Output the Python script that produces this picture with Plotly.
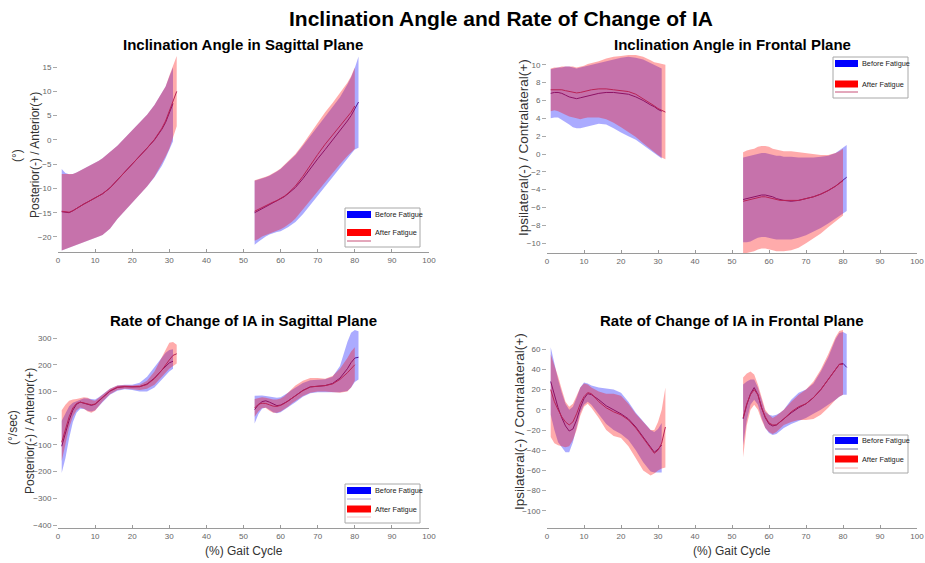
import plotly.graph_objects as go

W, H = 925, 563
FONT = "Liberation Sans, Arial, sans-serif"

# % gait cycle sample positions; None separates the two phases
X_BEFORE = [1, 2, 3, 4, 5, 6, 7, 8, 9, 10, 11, 12, 14, 16, 18, 20, 22, 24, 26, 28, 29, 30, 31, None,
            53, 54, 55, 56, 57, 58, 59, 60, 61, 62, 63, 64, 66, 68, 70, 72, 74, 76, 78, 79, 80, 81]
X_AFTER = [1, 2, 3, 4, 5, 6, 7, 8, 9, 10, 11, 12, 14, 16, 18, 20, 22, 24, 26, 28, 29, 30, 31, 32, None,
           53, 54, 55, 56, 57, 58, 59, 60, 61, 62, 63, 64, 66, 68, 70, 72, 74, 76, 78, 79, 80]

# Inclination angle, sagittal plane (deg): mean and mean +/- SD
SAG_IA_BEFORE_MEAN = [-14.8, -14.9, -15.0, -14.6, -14.1, -13.6, -13.2, -12.8, -12.4, -12.0, -11.6, -11.1, -9.9, -8.3, -6.6, -4.9, -3.3, -1.7, 0.0, 2.2, 3.6, 5.4, 7.5, None,
                      -15.0, -14.6, -14.2, -13.8, -13.4, -13.0, -12.6, -12.2, -11.7, -11.1, -10.5, -9.8, -8.0, -5.9, -3.9, -2.0, -0.1, 1.9, 3.9, 5.0, 6.3, 7.8]
SAG_IA_BEFORE_UP = [-6.0, -6.8, -7.1, -7.0, -6.7, -6.3, -5.9, -5.6, -5.2, -4.8, -4.3, -3.8, -2.5, -1.2, 0.4, 2.0, 3.6, 5.2, 7.2, 9.6, 11.0, 13.0, 15.0, None,
                    -8.4, -8.2, -8.0, -7.7, -7.4, -7.0, -6.5, -6.0, -5.3, -4.6, -3.9, -3.1, -1.2, 0.8, 2.8, 4.8, 6.8, 8.8, 11.4, 12.9, 14.8, 17.2]
SAG_IA_BEFORE_LO = [-22.8, -22.5, -22.2, -21.9, -21.6, -21.3, -21.0, -20.8, -20.5, -20.2, -19.9, -19.6, -18.3, -16.3, -14.6, -13.0, -11.3, -9.6, -7.7, -5.3, -3.8, -2.2, -0.3, None,
                    -21.6, -21.0, -20.4, -19.9, -19.5, -19.2, -19.0, -18.8, -18.4, -18.0, -17.5, -16.9, -15.3, -13.4, -11.5, -9.6, -7.7, -5.8, -3.9, -2.9, -2.0, -1.6]
SAG_IA_AFTER_MEAN = [-14.7, -14.8, -14.9, -14.6, -14.1, -13.6, -13.2, -12.8, -12.4, -12.0, -11.6, -11.1, -9.9, -8.3, -6.6, -4.9, -3.3, -1.7, 0.1, 2.4, 3.9, 5.8, 7.9, 10.0, None,
                     -14.7, -14.3, -13.9, -13.5, -13.1, -12.8, -12.5, -12.1, -11.6, -11.0, -10.3, -9.5, -7.5, -5.2, -3.0, -0.9, 1.0, 2.8, 4.6, 5.7, 7.0]
SAG_IA_AFTER_UP = [-7.0, -7.0, -7.1, -7.0, -6.7, -6.3, -5.9, -5.6, -5.2, -4.8, -4.3, -3.8, -2.5, -1.2, 0.4, 2.0, 3.6, 5.2, 7.2, 9.6, 11.0, 13.2, 15.2, 17.3, None,
                   -8.3, -8.1, -7.9, -7.6, -7.3, -6.9, -6.4, -5.9, -5.2, -4.5, -3.7, -2.9, -0.9, 1.3, 3.6, 5.7, 7.6, 9.6, 11.8, 13.1, 15.0]
SAG_IA_AFTER_LO = [-22.8, -22.5, -22.2, -21.9, -21.6, -21.3, -21.0, -20.8, -20.5, -20.2, -19.9, -19.6, -18.3, -16.3, -14.6, -13.0, -11.3, -9.6, -7.6, -4.8, -3.4, -1.8, 0.5, 2.8, None,
                   -20.8, -20.4, -19.9, -19.5, -19.2, -18.9, -18.7, -18.4, -18.0, -17.5, -16.9, -16.2, -14.5, -12.6, -10.7, -8.8, -6.9, -5.0, -3.3, -2.5, -1.8]

# Inclination angle, frontal plane (deg)
FRO_IA_BEFORE_MEAN = [6.8, 6.9, 6.9, 6.8, 6.6, 6.4, 6.3, 6.2, 6.3, 6.4, 6.5, 6.6, 6.8, 6.9, 6.9, 6.8, 6.7, 6.4, 6.0, 5.5, 5.3, 5.0, 4.8, None,
                      -5.1, -5.0, -4.9, -4.8, -4.7, -4.6, -4.6, -4.7, -4.8, -5.0, -5.1, -5.2, -5.3, -5.2, -5.0, -4.8, -4.5, -4.1, -3.6, -3.3, -3.0, -2.6]
FRO_IA_BEFORE_UP = [9.5, 9.6, 9.7, 9.7, 9.8, 9.8, 9.7, 9.6, 9.7, 9.8, 9.9, 10.0, 10.2, 10.4, 10.6, 10.8, 10.9, 10.8, 10.6, 10.2, 10.0, 9.8, 9.6, None,
                    -0.4, -0.3, -0.2, -0.1, 0.0, 0.1, 0.1, 0.0, -0.1, -0.2, -0.2, -0.3, -0.3, -0.4, -0.4, -0.4, -0.3, -0.2, 0.1, 0.4, 0.7, 1.0]
FRO_IA_BEFORE_LO = [4.0, 4.1, 4.1, 3.9, 3.6, 3.3, 3.0, 2.9, 2.9, 3.0, 3.1, 3.2, 3.4, 3.3, 2.9, 2.4, 2.0, 1.6, 1.1, 0.5, 0.2, -0.2, -0.5, None,
                    -9.9, -9.9, -9.8, -9.6, -9.4, -9.3, -9.3, -9.4, -9.5, -9.6, -9.6, -9.6, -9.6, -9.4, -9.1, -8.7, -8.3, -7.8, -7.3, -7.0, -6.7, -6.4]
FRO_IA_AFTER_MEAN = [7.2, 7.2, 7.2, 7.2, 7.1, 7.0, 6.9, 6.85, 6.9, 7.0, 7.1, 7.2, 7.3, 7.3, 7.2, 7.1, 7.0, 6.7, 6.2, 5.7, 5.4, 5.1, 4.9, 4.7, None,
                     -5.3, -5.2, -5.1, -5.0, -4.9, -4.8, -4.8, -4.9, -5.0, -5.1, -5.2, -5.2, -5.2, -5.2, -5.0, -4.8, -4.5, -4.1, -3.6, -3.3, -3.0]
FRO_IA_AFTER_UP = [9.6, 9.7, 9.7, 9.8, 9.8, 9.8, 9.8, 9.7, 9.8, 9.9, 10.1, 10.2, 10.4, 10.7, 10.9, 11.0, 11.1, 11.1, 10.9, 10.5, 10.3, 10.2, 10.1, 10.0, None,
                   0.2, 0.4, 0.5, 0.6, 0.8, 0.9, 0.9, 0.8, 0.6, 0.5, 0.4, 0.3, 0.3, 0.2, 0.1, 0.0, -0.1, -0.1, 0.1, 0.3, 0.6]
FRO_IA_AFTER_LO = [4.8, 4.9, 4.8, 4.6, 4.4, 4.2, 4.1, 4.0, 3.9, 4.0, 4.1, 4.1, 4.1, 3.9, 3.5, 3.0, 2.5, 1.9, 1.2, 0.6, 0.2, -0.1, -0.4, -0.6, None,
                   -11.1, -11.1, -11.0, -10.9, -10.7, -10.6, -10.6, -10.7, -10.8, -10.9, -10.9, -10.9, -10.8, -10.5, -10.0, -9.5, -8.9, -8.2, -7.5, -7.2, -6.9]

# Rate of change of IA, sagittal plane (deg/s)
SAG_RATE_BEFORE_MEAN = [-105, -56, -8, 30, 52, 60, 56, 51, 48, 52, 64, 78, 101, 115, 118, 117, 118, 128, 150, 180, 195, 207, 213, None,
                        32, 50, 62, 65, 60, 53, 47, 49, 55, 64, 74, 84, 104, 117, 120, 122, 130, 150, 185, 208, 225, 228]
SAG_RATE_BEFORE_UP = [-10, 20, 45, 58, 64, 70, 75, 74, 72, 70, 78, 88, 110, 122, 125, 125, 133, 155, 190, 228, 245, 255, 258, None,
                      84, 85, 85, 83, 80, 77, 76, 78, 85, 95, 105, 115, 132, 142, 145, 146, 155, 195, 285, 320, 330, 325]
SAG_RATE_BEFORE_LO = [-205, -150, -75, -15, 20, 35, 34, 28, 25, 30, 45, 60, 88, 103, 108, 105, 100, 100, 115, 145, 160, 175, 185, None,
                      -20, 15, 35, 40, 32, 22, 18, 22, 30, 40, 50, 60, 80, 93, 97, 98, 97, 97, 102, 115, 135, 145]
SAG_RATE_AFTER_MEAN = [-90, -40, 5, 38, 55, 60, 56, 52, 50, 53, 64, 78, 102, 116, 118, 117, 118, 126, 148, 180, 200, 218, 235, 241, None,
                       38, 52, 56, 55, 50, 45, 44, 48, 55, 64, 74, 85, 103, 117, 120, 122, 128, 145, 170, 185, 200]
SAG_RATE_AFTER_UP = [30, 50, 65, 70, 72, 75, 78, 76, 68, 65, 75, 88, 110, 122, 124, 122, 125, 140, 175, 230, 260, 282, 285, 275, None,
                     72, 76, 78, 76, 73, 70, 70, 74, 82, 95, 110, 122, 140, 150, 150, 148, 158, 185, 225, 250, 265]
SAG_RATE_AFTER_LO = [-160, -95, -35, 5, 30, 40, 35, 25, 20, 28, 45, 62, 90, 105, 110, 108, 105, 110, 125, 155, 170, 185, 195, 205, None,
                     5, 25, 38, 38, 28, 20, 20, 25, 33, 43, 55, 65, 83, 95, 100, 100, 98, 95, 100, 115, 140]

# Rate of change of IA, frontal plane (deg/s)
FRO_RATE_BEFORE_MEAN = [28, 14, 2, -8, -16, -21, -19, -10, 2, 11, 16, 15, 10, 4, 0, -4, -9, -17, -27, -37, -42, -39, -35, None,
                        -9, 5, 16, 22, 15, 2, -8, -14, -16, -15, -12, -9, -3, 2, 6, 12, 20, 30, 40, 45, 46, 42]
FRO_RATE_BEFORE_UP = [62, 45, 30, 17, 6, 0, 3, 12, 22, 27, 26, 24, 22, 21, 20, 17, 8, -3, -11, -20, -22, -19, -13, None,
                      25, 28, 30, 30, 22, 10, -2, -5, -6, -5, -3, 0, 10, 17, 20, 26, 38, 52, 70, 76, 77, 75]
FRO_RATE_BEFORE_LO = [-5, -20, -32, -37, -42, -42, -32, -18, -3, 5, 8, 5, -4, -14, -20, -24, -30, -40, -52, -61, -62, -62, -62, None,
                      -35, -10, 5, 10, 5, -8, -18, -23, -25, -24, -21, -18, -14, -11, -8, -4, 0, 5, 10, 13, 15, 15]
FRO_RATE_AFTER_MEAN = [20, 8, 0, -7, -12, -15, -12, -4, 6, 13, 17, 16, 8, 2, -2, -5, -10, -18, -28, -38, -43, -40, -33, -17, None,
                       -8, 6, 15, 20, 15, 2, -7, -13, -15, -15, -12, -9, -2, 3, 6, 12, 20, 30, 40, 45, 45]
FRO_RATE_AFTER_UP = [55, 45, 33, 20, 8, 3, 6, 14, 22, 26, 25, 22, 18, 16, 16, 14, 6, -4, -12, -20, -20, -12, 0, 22, None,
                     32, 36, 38, 35, 25, 12, 0, -5, -8, -6, -3, 0, 8, 15, 20, 28, 40, 55, 72, 78, 79]
FRO_RATE_AFTER_LO = [-27, -33, -35, -36, -37, -36, -30, -20, -6, 3, 6, 2, -8, -20, -26, -28, -36, -48, -60, -65, -63, -60, -58, -57, None,
                     -47, -15, 0, 5, 0, -10, -18, -22, -24, -22, -19, -15, -12, -10, -10, -9, -5, 2, 10, 13, 15]

X_TICKS = list(range(0, 101, 10))

BLUE_FILL = "rgba(0,0,255,0.33)"
RED_FILL = "rgba(255,0,0,0.33)"
BLUE_LINE = "rgb(85,25,150)"
RED_LINE = "rgb(185,35,85)"


def px(x):
    return x / W


def py(y):
    return 1 - y / H


def split(xs, ys):
    """Split parallel lists at None into separate runs."""
    runs, cx, cy = [], [], []
    for a, b in zip(xs, ys):
        if a is None:
            if cx:
                runs.append((cx, cy))
            cx, cy = [], []
        else:
            cx.append(a)
            cy.append(b)
    if cx:
        runs.append((cx, cy))
    return runs


panels = [
    dict(title="Inclination Angle in Sagittal Plane", xd=(58, 429), yd=(55, 252), yr=(-23.1, 17.5),
         yt=list(range(-20, 16, 5)),
         before=(SAG_IA_BEFORE_MEAN, SAG_IA_BEFORE_UP, SAG_IA_BEFORE_LO),
         after=(SAG_IA_AFTER_MEAN, SAG_IA_AFTER_UP, SAG_IA_AFTER_LO)),
    dict(title="Inclination Angle in Frontal Plane", xd=(547, 917), yd=(55, 253), yr=(-11.1, 11.1),
         yt=list(range(-10, 11, 2)),
         before=(FRO_IA_BEFORE_MEAN, FRO_IA_BEFORE_UP, FRO_IA_BEFORE_LO),
         after=(FRO_IA_AFTER_MEAN, FRO_IA_AFTER_UP, FRO_IA_AFTER_LO)),
    dict(title="Rate of Change of IA in Sagittal Plane", xd=(58, 429), yd=(330, 528), yr=(-411, 330),
         yt=list(range(-400, 301, 100)),
         before=(SAG_RATE_BEFORE_MEAN, SAG_RATE_BEFORE_UP, SAG_RATE_BEFORE_LO),
         after=(SAG_RATE_AFTER_MEAN, SAG_RATE_AFTER_UP, SAG_RATE_AFTER_LO)),
    dict(title="Rate of Change of IA in Frontal Plane", xd=(547, 917), yd=(330, 528), yr=(-117, 79),
         yt=list(range(-100, 61, 20)),
         before=(FRO_RATE_BEFORE_MEAN, FRO_RATE_BEFORE_UP, FRO_RATE_BEFORE_LO),
         after=(FRO_RATE_AFTER_MEAN, FRO_RATE_AFTER_UP, FRO_RATE_AFTER_LO)),
]

fig = go.Figure()
layout = dict(
    width=W, height=H, margin=dict(l=0, r=0, t=0, b=0),
    paper_bgcolor="white", plot_bgcolor="white",
    font=dict(family=FONT, color="#222"), showlegend=False,
)
annotations, shapes = [], []

for i, p in enumerate(panels, start=1):
    sfx = "" if i == 1 else str(i)
    xa, ya = "x" + sfx, "y" + sfx
    layout["xaxis" + sfx] = dict(
        domain=[px(p["xd"][0]), px(p["xd"][1])], anchor=ya, range=[0, 100],
        tickvals=X_TICKS, showline=True, linecolor="#9a9a9a", linewidth=1,
        ticks="inside", ticklen=3, tickcolor="#9a9a9a",
        tickfont=dict(size=8, color="#666"), showgrid=False, zeroline=False, automargin=False,
    )
    layout["yaxis" + sfx] = dict(
        domain=[py(p["yd"][1]), py(p["yd"][0])], anchor=xa, range=list(p["yr"]),
        tickvals=p["yt"], showline=False, ticks="outside", ticklen=4, tickcolor="#aaaaaa",
        tickfont=dict(size=8, color="#666"), showgrid=False, zeroline=False, automargin=False,
    )
    for xs, (mean, up, lo), fc, lc in ((X_BEFORE, p["before"], BLUE_FILL, BLUE_LINE),
                                       (X_AFTER, p["after"], RED_FILL, RED_LINE)):
        ups = split(xs, up)
        los = split(xs, lo)
        for (sx, su), (_, sl) in zip(ups, los):
            fig.add_trace(go.Scatter(
                x=sx + sx[::-1], y=su + sl[::-1], fill="toself", fillcolor=fc,
                mode="lines", line=dict(width=0), hoverinfo="skip", xaxis=xa, yaxis=ya))
        fig.add_trace(go.Scatter(
            x=xs, y=mean, mode="lines", line=dict(color=lc, width=1),
            connectgaps=False, hoverinfo="skip", xaxis=xa, yaxis=ya))
    cx = (p["xd"][0] + p["xd"][1]) / 2
    annotations.append(dict(x=px(cx), y=py(p["yd"][0] - 10), xref="paper", yref="paper",
                            text="<b>%s</b>" % p["title"], showarrow=False,
                            font=dict(size=15, color="black", family=FONT),
                            xanchor="center", yanchor="middle"))

# Figure title
annotations.append(dict(x=px(501), y=py(18), xref="paper", yref="paper",
                        text="<b>Inclination Angle and Rate of Change of IA</b>", showarrow=False,
                        font=dict(size=21, color="black", family=FONT), xanchor="center", yanchor="middle"))


def vlabel(x, y, text, size):
    annotations.append(dict(x=px(x), y=py(y), xref="paper", yref="paper", text=text,
                            showarrow=False, textangle=-90, font=dict(size=size, color="#333", family=FONT),
                            xanchor="center", yanchor="middle"))


vlabel(17, 156, "(°)", 12)
vlabel(35, 155, "Posterior(-) / Anterior(+)", 12)
vlabel(523, 148, "Ipsilateral(-) / Contralateral(+)", 13.5)
vlabel(13, 428, "(°/sec)", 12)
vlabel(30, 431, "Posterior(-) / Anterior(+)", 12)
vlabel(519, 422, "Ipsilateral(-) / Contralateral(+)", 13.5)

for cx in (244, 732):
    annotations.append(dict(x=px(cx), y=py(551), xref="paper", yref="paper", text="(%) Gait Cycle",
                            showarrow=False, font=dict(size=12, color="#333", family=FONT),
                            xanchor="center", yanchor="middle"))


def rect(x0, y0, x1, y1, fill, line=None):
    shapes.append(dict(type="rect", xref="paper", yref="paper",
                       x0=px(x0), x1=px(x1), y0=py(y1), y1=py(y0), fillcolor=fill,
                       line=dict(width=1 if line else 0, color=line or fill), layer="above"))


def hline(x0, x1, y, color):
    shapes.append(dict(type="line", xref="paper", yref="paper", x0=px(x0), x1=px(x1),
                       y0=py(y), y1=py(y), line=dict(width=1, color=color), layer="above"))


def label(x, y, text):
    annotations.append(dict(x=px(x), y=py(y), xref="paper", yref="paper", text=text, showarrow=False,
                            font=dict(size=7.3, color="#222", family=FONT), xanchor="left", yanchor="middle"))


def legend(x0, y0, x1, y1, rows, patch_w):
    rect(x0, y0, x1, y1, "white", "#a8a8a8")
    for kind, y, color, text in rows:
        if kind == "patch":
            rect(x0 + 2, y - 3.5, x0 + 2 + patch_w, y + 3.5, color)
            label(x0 + 4 + patch_w, y, text)
        else:
            hline(x0 + 2, x0 + 2 + patch_w, y, color)


legend(345, 208, 420, 247, [("patch", 214.5, "rgb(0,0,255)", "Before Fatigue"),
                            ("patch", 232.5, "rgb(255,0,0)", "After Fatigue"),
                            ("line", 241, "rgb(200,80,120)", "")], 24)
legend(833, 57, 908, 98, [("patch", 63.5, "rgb(0,0,255)", "Before Fatigue"),
                          ("patch", 84, "rgb(255,0,0)", "After Fatigue"),
                          ("line", 92, "rgb(200,80,120)", "")], 23)
legend(345, 484, 420, 523, [("patch", 490.5, "rgb(0,0,255)", "Before Fatigue"),
                            ("line", 499, "rgb(170,170,215)", ""),
                            ("patch", 509, "rgb(255,0,0)", "After Fatigue"),
                            ("line", 517, "rgb(240,190,195)", "")], 24)
legend(833, 435, 908, 473, [("patch", 440.5, "rgb(0,0,255)", "Before Fatigue"),
                            ("line", 449, "rgb(110,110,160)", ""),
                            ("patch", 459, "rgb(255,0,0)", "After Fatigue"),
                            ("line", 468, "rgb(240,170,170)", "")], 23)

layout["annotations"] = annotations
layout["shapes"] = shapes
fig.update_layout(**layout)
fig.write_html("out.html")
